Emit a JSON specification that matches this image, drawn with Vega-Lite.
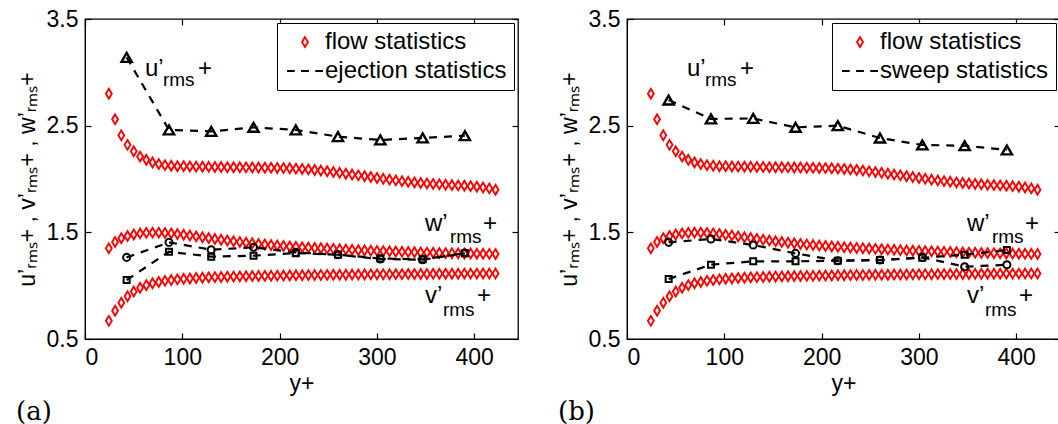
{
  "$schema": "https://vega.github.io/schema/vega-lite/v6.json",
  "background": "white",
  "padding": {"left": 15, "top": 7, "right": 0, "bottom": 0},
  "spacing": 37,
  "config": {
    "view": {"stroke": "black", "strokeWidth": 1.3},
    "font": "Liberation Sans",
    "point": {"opacity": 1},
    "axis": {
      "labelFont": "Liberation Sans", "labelFontSize": 23, "labelColor": "black",
      "titleFont": "Liberation Sans", "titleFontSize": 23, "titleFontWeight": "normal", "titleColor": "black",
      "domainColor": "black", "tickColor": "black", "grid": false,
      "tickSize": -6, "tickWidth": 1.2, "labelPadding": 13
    },
    "axisX": {"titlePadding": 3},
    "axisY": {"titlePadding": 7},
    "legend": {
      "orient": "top-right", "offset": 4, "padding": 7,
      "strokeColor": "black", "fillColor": "white",
      "labelFont": "Liberation Sans", "labelFontSize": 24, "labelColor": "black", "labelLimit": 400,
      "symbolSize": 95, "symbolStrokeWidth": 1.9, "symbolOffset": 9, "labelOffset": 8, "rowPadding": 5
    }
  },
  "datasets": {
    "flow": [
      {"x": 24.5, "u": 2.80, "w": 1.35, "v": 0.67},
      {"x": 30.9, "u": 2.56, "w": 1.41, "v": 0.765},
      {"x": 37.3, "u": 2.41, "w": 1.445, "v": 0.84},
      {"x": 43.7, "u": 2.32, "w": 1.465, "v": 0.90},
      {"x": 50.1, "u": 2.26, "w": 1.48, "v": 0.945},
      {"x": 56.6, "u": 2.21, "w": 1.49, "v": 0.98},
      {"x": 63.0, "u": 2.18, "w": 1.495, "v": 1.005},
      {"x": 69.4, "u": 2.155, "w": 1.497, "v": 1.022},
      {"x": 75.8, "u": 2.14, "w": 1.497, "v": 1.035},
      {"x": 82.2, "u": 2.13, "w": 1.494, "v": 1.045},
      {"x": 88.6, "u": 2.125, "w": 1.49, "v": 1.053},
      {"x": 95.0, "u": 2.12, "w": 1.484, "v": 1.059},
      {"x": 101.4, "u": 2.12, "w": 1.477, "v": 1.064},
      {"x": 107.8, "u": 2.118, "w": 1.47, "v": 1.068},
      {"x": 114.2, "u": 2.116, "w": 1.462, "v": 1.072},
      {"x": 120.7, "u": 2.115, "w": 1.454, "v": 1.075},
      {"x": 127.1, "u": 2.114, "w": 1.446, "v": 1.078},
      {"x": 133.5, "u": 2.113, "w": 1.438, "v": 1.08},
      {"x": 139.9, "u": 2.112, "w": 1.43, "v": 1.082},
      {"x": 146.3, "u": 2.111, "w": 1.423, "v": 1.084},
      {"x": 152.7, "u": 2.11, "w": 1.416, "v": 1.086},
      {"x": 159.1, "u": 2.11, "w": 1.409, "v": 1.087},
      {"x": 165.5, "u": 2.109, "w": 1.403, "v": 1.089},
      {"x": 171.9, "u": 2.108, "w": 1.397, "v": 1.09},
      {"x": 178.3, "u": 2.107, "w": 1.391, "v": 1.091},
      {"x": 184.8, "u": 2.106, "w": 1.386, "v": 1.092},
      {"x": 191.2, "u": 2.105, "w": 1.381, "v": 1.093},
      {"x": 197.6, "u": 2.104, "w": 1.376, "v": 1.094},
      {"x": 204.0, "u": 2.102, "w": 1.372, "v": 1.095},
      {"x": 210.4, "u": 2.10, "w": 1.368, "v": 1.096},
      {"x": 216.8, "u": 2.097, "w": 1.364, "v": 1.097},
      {"x": 223.2, "u": 2.094, "w": 1.36, "v": 1.098},
      {"x": 229.6, "u": 2.09, "w": 1.357, "v": 1.099},
      {"x": 236.0, "u": 2.085, "w": 1.354, "v": 1.10},
      {"x": 242.4, "u": 2.079, "w": 1.351, "v": 1.10},
      {"x": 248.9, "u": 2.072, "w": 1.348, "v": 1.101},
      {"x": 255.3, "u": 2.065, "w": 1.345, "v": 1.102},
      {"x": 261.7, "u": 2.058, "w": 1.342, "v": 1.102},
      {"x": 268.1, "u": 2.05, "w": 1.339, "v": 1.103},
      {"x": 274.5, "u": 2.042, "w": 1.336, "v": 1.104},
      {"x": 280.9, "u": 2.034, "w": 1.333, "v": 1.104},
      {"x": 287.3, "u": 2.026, "w": 1.33, "v": 1.105},
      {"x": 293.7, "u": 2.018, "w": 1.328, "v": 1.106},
      {"x": 300.1, "u": 2.01, "w": 1.326, "v": 1.106},
      {"x": 306.5, "u": 2.002, "w": 1.324, "v": 1.107},
      {"x": 313.0, "u": 1.994, "w": 1.322, "v": 1.107},
      {"x": 319.4, "u": 1.987, "w": 1.32, "v": 1.108},
      {"x": 325.8, "u": 1.98, "w": 1.318, "v": 1.108},
      {"x": 332.2, "u": 1.974, "w": 1.316, "v": 1.109},
      {"x": 338.6, "u": 1.968, "w": 1.314, "v": 1.109},
      {"x": 345.0, "u": 1.963, "w": 1.312, "v": 1.11},
      {"x": 351.4, "u": 1.958, "w": 1.31, "v": 1.11},
      {"x": 357.8, "u": 1.954, "w": 1.308, "v": 1.111},
      {"x": 364.2, "u": 1.95, "w": 1.306, "v": 1.111},
      {"x": 370.6, "u": 1.946, "w": 1.305, "v": 1.112},
      {"x": 377.1, "u": 1.943, "w": 1.304, "v": 1.112},
      {"x": 383.5, "u": 1.94, "w": 1.303, "v": 1.112},
      {"x": 389.9, "u": 1.937, "w": 1.302, "v": 1.113},
      {"x": 396.3, "u": 1.933, "w": 1.301, "v": 1.113},
      {"x": 402.7, "u": 1.928, "w": 1.30, "v": 1.113},
      {"x": 409.1, "u": 1.921, "w": 1.299, "v": 1.114},
      {"x": 415.5, "u": 1.912, "w": 1.298, "v": 1.114},
      {"x": 421.9, "u": 1.90, "w": 1.297, "v": 1.114}
    ],
    "ejection": [
      {"x": 42.8, "u": 3.14, "v": 1.053, "w": 1.265},
      {"x": 86.3, "u": 2.46, "v": 1.318, "w": 1.406},
      {"x": 129.7, "u": 2.446, "v": 1.272, "w": 1.337},
      {"x": 173.2, "u": 2.484, "v": 1.281, "w": 1.359},
      {"x": 216.6, "u": 2.46, "v": 1.305, "w": 1.312},
      {"x": 260.0, "u": 2.397, "v": 1.29, "w": 1.29},
      {"x": 303.5, "u": 2.366, "v": 1.255, "w": 1.25},
      {"x": 347.0, "u": 2.385, "v": 1.247, "w": 1.243},
      {"x": 390.4, "u": 2.406, "v": 1.303, "w": 1.306}
    ],
    "sweep": [
      {"x": 42.8, "u": 2.74, "v": 1.063, "w": 1.406},
      {"x": 86.3, "u": 2.563, "v": 1.197, "w": 1.438},
      {"x": 129.7, "u": 2.568, "v": 1.228, "w": 1.381},
      {"x": 173.2, "u": 2.484, "v": 1.228, "w": 1.303},
      {"x": 216.6, "u": 2.50, "v": 1.234, "w": 1.234},
      {"x": 260.0, "u": 2.384, "v": 1.24, "w": 1.24},
      {"x": 303.5, "u": 2.319, "v": 1.262, "w": 1.265},
      {"x": 347.0, "u": 2.312, "v": 1.29, "w": 1.178},
      {"x": 390.4, "u": 2.272, "v": 1.334, "w": 1.196}
    ],
    "ann": [
      {"text": "u’", "x": 61.6, "y": 2.965, "part": "main"},
      {"text": "rms", "x": 80.1, "y": 2.875, "part": "sub"},
      {"text": "+", "x": 116.1, "y": 2.965, "part": "main"},
      {"text": "w’", "x": 349.3, "y": 1.51, "part": "main"},
      {"text": "rms", "x": 375.0, "y": 1.403, "part": "sub"},
      {"text": "+", "x": 409.0, "y": 1.51, "part": "main"},
      {"text": "v’", "x": 349.3, "y": 0.838, "part": "main"},
      {"text": "rms", "x": 367.8, "y": 0.719, "part": "sub"},
      {"text": "+", "x": 402.8, "y": 0.838, "part": "main"}
    ]
  },
  "resolve": {"scale": {"color": "independent", "shape": "independent"}, "legend": {"color": "independent", "shape": "independent"}},
  "hconcat": [
    {
      "width": 433, "height": 320,
      "title": {"text": "(a)", "orient": "bottom", "anchor": "start", "font": "DejaVu Serif", "fontSize": 26, "fontWeight": "normal", "color": "black", "offset": 4},
      "resolve": {"axis": {"x": "independent", "y": "independent"}},
      "layer": [
        {
          "data": {"name": "flow"},
          "transform": [{"fold": ["u", "v", "w"], "as": ["var", "value"]}],
          "mark": {"type": "point", "filled": false, "strokeWidth": 1.9, "size": 95, "opacity": 1},
          "encoding": {
            "x": {"field": "x", "type": "quantitative", "scale": {"domain": [0, 445], "nice": false, "zero": false}, "axis": {"values": [0, 100, 200, 300, 400], "title": "y+"}},
            "y": {"field": "value", "type": "quantitative", "scale": {"domain": [0.5, 3.5], "nice": false, "zero": false}, "axis": {"values": [0.5, 1.5, 2.5, 3.5], "format": ".1f", "title": "u’ᵣₘₛ+ , v’ᵣₘₛ+ , w’ᵣₘₛ+"}},
            "color": {"datum": "flow statistics", "type": "nominal", "scale": {"domain": ["flow statistics", "ejection statistics"], "range": ["#ff0000", "#000000"]}, "legend": {"title": null}},
            "shape": {"datum": "flow statistics", "type": "nominal", "scale": {"domain": ["flow statistics", "ejection statistics"], "range": ["M0,-1L0.6,0L0,1L-0.6,0Z", "M-3.7,0H-2.1M-0.8,0H0.8M2.1,0H3.7"]}, "legend": {"title": null}}
          }
        },
        {
          "data": {"name": "ejection"},
          "transform": [{"fold": ["u", "v", "w"], "as": ["var", "value"]}],
          "mark": {"type": "line", "color": "black", "strokeDash": [8, 7], "strokeWidth": 2.2},
          "encoding": {
            "x": {"field": "x", "type": "quantitative", "axis": {"orient": "top", "values": [0, 100, 200, 300, 400], "labels": false, "title": null, "domain": false}},
            "y": {"field": "value", "type": "quantitative", "axis": {"orient": "right", "values": [0.5, 1.5, 2.5, 3.5], "labels": false, "title": null, "domain": false}},
            "detail": {"field": "var"}
          }
        },
        {
          "data": {"name": "ejection"},
          "mark": {"type": "point", "shape": "triangle-up", "filled": false, "color": "black", "size": 105, "strokeWidth": 2.4, "opacity": 1},
          "encoding": {"x": {"field": "x", "type": "quantitative", "axis": null}, "y": {"field": "u", "type": "quantitative", "axis": null}}
        },
        {
          "data": {"name": "ejection"},
          "mark": {"type": "point", "shape": "circle", "filled": false, "color": "black", "size": 50, "strokeWidth": 2, "opacity": 1},
          "encoding": {"x": {"field": "x", "type": "quantitative", "axis": null}, "y": {"field": "w", "type": "quantitative", "axis": null}}
        },
        {
          "data": {"name": "ejection"},
          "mark": {"type": "point", "shape": "square", "filled": false, "color": "black", "size": 36, "strokeWidth": 2, "opacity": 1},
          "encoding": {"x": {"field": "x", "type": "quantitative", "axis": null}, "y": {"field": "v", "type": "quantitative", "axis": null}}
        },
        {
          "data": {"name": "ann"},
          "transform": [{"filter": "datum.part == 'main'"}],
          "mark": {"type": "text", "align": "left", "baseline": "alphabetic", "font": "Liberation Sans", "fontSize": 24, "color": "black"},
          "encoding": {"x": {"field": "x", "type": "quantitative", "axis": null}, "y": {"field": "y", "type": "quantitative", "axis": null}, "text": {"field": "text"}}
        },
        {
          "data": {"name": "ann"},
          "transform": [{"filter": "datum.part == 'sub'"}],
          "mark": {"type": "text", "align": "left", "baseline": "alphabetic", "font": "Liberation Sans", "fontSize": 19, "color": "black"},
          "encoding": {"x": {"field": "x", "type": "quantitative", "axis": null}, "y": {"field": "y", "type": "quantitative", "axis": null}, "text": {"field": "text"}}
        }
      ]
    },
    {
      "width": 433, "height": 320,
      "title": {"text": "(b)", "orient": "bottom", "anchor": "start", "font": "DejaVu Serif", "fontSize": 26, "fontWeight": "normal", "color": "black", "offset": 4},
      "resolve": {"axis": {"x": "independent", "y": "independent"}},
      "layer": [
        {
          "data": {"name": "flow"},
          "transform": [{"fold": ["u", "v", "w"], "as": ["var", "value"]}],
          "mark": {"type": "point", "filled": false, "strokeWidth": 1.9, "size": 95, "opacity": 1},
          "encoding": {
            "x": {"field": "x", "type": "quantitative", "scale": {"domain": [0, 445], "nice": false, "zero": false}, "axis": {"values": [0, 100, 200, 300, 400], "title": "y+"}},
            "y": {"field": "value", "type": "quantitative", "scale": {"domain": [0.5, 3.5], "nice": false, "zero": false}, "axis": {"values": [0.5, 1.5, 2.5, 3.5], "format": ".1f", "title": "u’ᵣₘₛ+ , v’ᵣₘₛ+ , w’ᵣₘₛ+"}},
            "color": {"datum": "flow statistics", "type": "nominal", "scale": {"domain": ["flow statistics", "sweep statistics"], "range": ["#ff0000", "#000000"]}, "legend": {"title": null}},
            "shape": {"datum": "flow statistics", "type": "nominal", "scale": {"domain": ["flow statistics", "sweep statistics"], "range": ["M0,-1L0.6,0L0,1L-0.6,0Z", "M-3.7,0H-2.1M-0.8,0H0.8M2.1,0H3.7"]}, "legend": {"title": null}}
          }
        },
        {
          "data": {"name": "sweep"},
          "transform": [{"fold": ["u", "v", "w"], "as": ["var", "value"]}],
          "mark": {"type": "line", "color": "black", "strokeDash": [8, 7], "strokeWidth": 2.2},
          "encoding": {
            "x": {"field": "x", "type": "quantitative", "axis": {"orient": "top", "values": [0, 100, 200, 300, 400], "labels": false, "title": null, "domain": false}},
            "y": {"field": "value", "type": "quantitative", "axis": {"orient": "right", "values": [0.5, 1.5, 2.5, 3.5], "labels": false, "title": null, "domain": false}},
            "detail": {"field": "var"}
          }
        },
        {
          "data": {"name": "sweep"},
          "mark": {"type": "point", "shape": "triangle-up", "filled": false, "color": "black", "size": 105, "strokeWidth": 2.4, "opacity": 1},
          "encoding": {"x": {"field": "x", "type": "quantitative", "axis": null}, "y": {"field": "u", "type": "quantitative", "axis": null}}
        },
        {
          "data": {"name": "sweep"},
          "mark": {"type": "point", "shape": "circle", "filled": false, "color": "black", "size": 50, "strokeWidth": 2, "opacity": 1},
          "encoding": {"x": {"field": "x", "type": "quantitative", "axis": null}, "y": {"field": "w", "type": "quantitative", "axis": null}}
        },
        {
          "data": {"name": "sweep"},
          "mark": {"type": "point", "shape": "square", "filled": false, "color": "black", "size": 36, "strokeWidth": 2, "opacity": 1},
          "encoding": {"x": {"field": "x", "type": "quantitative", "axis": null}, "y": {"field": "v", "type": "quantitative", "axis": null}}
        },
        {
          "data": {"name": "ann"},
          "transform": [{"filter": "datum.part == 'main'"}],
          "mark": {"type": "text", "align": "left", "baseline": "alphabetic", "font": "Liberation Sans", "fontSize": 24, "color": "black"},
          "encoding": {"x": {"field": "x", "type": "quantitative", "axis": null}, "y": {"field": "y", "type": "quantitative", "axis": null}, "text": {"field": "text"}}
        },
        {
          "data": {"name": "ann"},
          "transform": [{"filter": "datum.part == 'sub'"}],
          "mark": {"type": "text", "align": "left", "baseline": "alphabetic", "font": "Liberation Sans", "fontSize": 19, "color": "black"},
          "encoding": {"x": {"field": "x", "type": "quantitative", "axis": null}, "y": {"field": "y", "type": "quantitative", "axis": null}, "text": {"field": "text"}}
        }
      ]
    }
  ]
}
